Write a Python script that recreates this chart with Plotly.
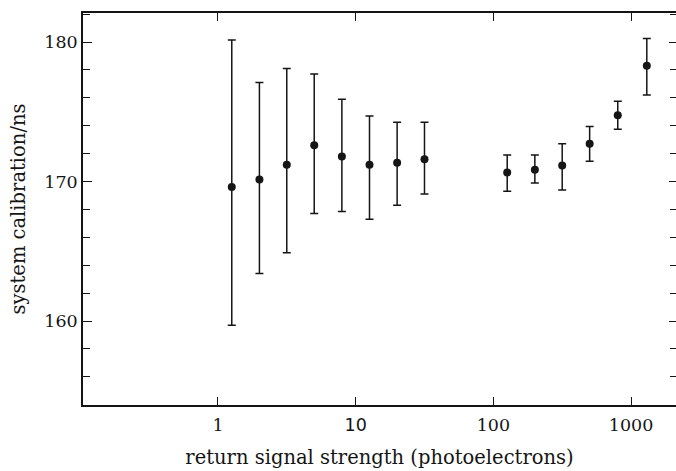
import plotly.graph_objects as go

# Data
signal = [1.26, 2.0, 3.16, 5.0, 7.94, 12.6, 20, 31.6, 126, 200, 316, 500, 800, 1300]
calibration = [169.6, 170.15, 171.2, 172.6, 171.8, 171.2, 171.35, 171.6,
               170.65, 170.85, 171.15, 172.7, 174.75, 178.3]
upper = [180.15, 177.1, 178.1, 177.7, 175.9, 174.7, 174.25, 174.25,
         171.9, 171.9, 172.7, 173.95, 175.75, 180.25]
lower = [159.7, 163.4, 164.9, 167.7, 167.85, 167.3, 168.3, 169.1,
         169.3, 169.9, 169.4, 171.45, 173.75, 176.2]

x_tickvals = [1, 10, 100, 1000]
x_ticktext = ["1", '<span style="font-family:DejaVu Sans">10</span>', "100", "1000"]
y_tickvals = [160, 170, 180]
y_ticktext = ["160", "170", "180"]

err_plus = [u - c for u, c in zip(upper, calibration)]
err_minus = [c - l for c, l in zip(calibration, lower)]

ink = "#151515"
serif = "DejaVu Serif"
y_range = [153.98, 182.08]

fig = go.Figure()
fig.add_trace(go.Scatter(
    x=signal, y=calibration, mode="markers",
    marker=dict(color=ink, size=8),
    error_y=dict(type="data", symmetric=False, array=err_plus, arrayminus=err_minus,
                 color=ink, thickness=1.5, width=4),
    showlegend=False,
))
# invisible copy so the right-hand tick axis is drawn
fig.add_trace(go.Scatter(
    x=signal, y=calibration, mode="markers", yaxis="y2",
    marker=dict(color=ink, size=1, opacity=0),
    hoverinfo="skip", showlegend=False,
))

fig.update_layout(
    width=676, height=471,
    margin=dict(l=83, r=0, t=13, b=66),
    paper_bgcolor="white", plot_bgcolor="white",
    font=dict(family=serif, color=ink, size=17),
    yaxis2=dict(
        overlaying="y", side="right", anchor="x", range=y_range,
        tickvals=y_tickvals, showticklabels=False,
        ticks="inside", ticklen=7, tickwidth=1.2, tickcolor=ink,
        minor=dict(dtick=2, tick0=0, ticks="inside", ticklen=6, tickwidth=1.2, tickcolor=ink),
        showline=False, showgrid=False, zeroline=False,
    ),
)
fig.update_xaxes(
    type="log", range=[-0.98, 3.326],
    tickvals=x_tickvals, ticktext=x_ticktext,
    ticks="inside", ticklen=8, tickwidth=1.3, tickcolor=ink,
    showline=True, linecolor=ink, linewidth=1.5, mirror="ticks",
    showgrid=False, zeroline=False,
    ticklabelstandoff=3,
    tickfont=dict(family=serif, size=17.5, color=ink),
    title=dict(text="return signal strength (photoelectrons)",
               font=dict(family=serif, size=19.5, color=ink), standoff=17),
)
fig.layout.yaxis.update(
    range=y_range,
    tickvals=y_tickvals, ticktext=y_ticktext,
    ticks="inside", ticklen=9, tickwidth=1.3, tickcolor=ink,
    minor=dict(dtick=2, tick0=0, ticks="inside", ticklen=7, tickwidth=1.2, tickcolor=ink),
    showline=True, linecolor=ink, linewidth=1.5, mirror=False,
    showgrid=False, zeroline=False,
    ticklabelstandoff=0,
    tickfont=dict(family=serif, size=17.5, color=ink),
    title=dict(text="system calibration/ns",
               font=dict(family=serif, size=19.5, color=ink), standoff=14),
)

fig.write_html("out.html")
